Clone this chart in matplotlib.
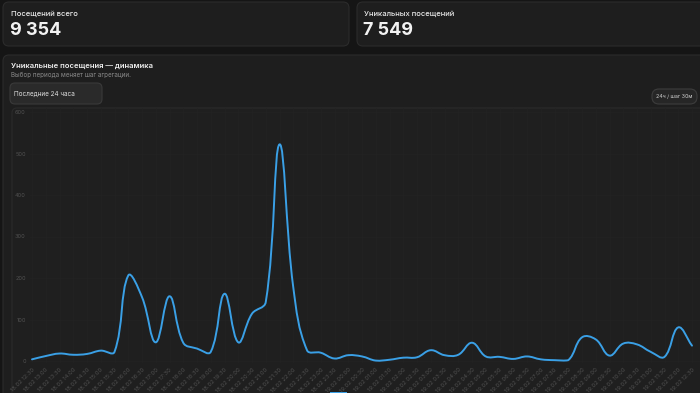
import matplotlib
matplotlib.use("Agg")
import matplotlib.pyplot as plt
import numpy as np
from matplotlib.patches import FancyBboxPatch, Rectangle, PathPatch
from matplotlib.path import Path

plt.rcParams['font.family'] = ['Inter', 'DejaVu Sans']

# data: unique visits per 30 minutes, 18.02 12:30 .. 19.02 12:30
times = ["18.02 12:30", "18.02 13:00", "18.02 13:30", "18.02 14:00", "18.02 14:30",
         "18.02 15:00", "18.02 15:30", "18.02 16:00", "18.02 16:30", "18.02 17:00",
         "18.02 17:30", "18.02 18:00", "18.02 18:30", "18.02 19:00", "18.02 19:30",
         "18.02 20:00", "18.02 20:30", "18.02 21:00", "18.02 21:30", "18.02 22:00",
         "18.02 22:30", "18.02 23:00", "18.02 23:30", "19.02 00:00", "19.02 00:30",
         "19.02 01:00", "19.02 01:30", "19.02 02:00", "19.02 02:30", "19.02 03:00",
         "19.02 03:30", "19.02 04:00", "19.02 04:30", "19.02 05:00", "19.02 05:30",
         "19.02 06:00", "19.02 06:30", "19.02 07:00", "19.02 07:30", "19.02 08:00",
         "19.02 08:30", "19.02 09:00", "19.02 09:30", "19.02 10:00", "19.02 10:30",
         "19.02 11:00", "19.02 11:30", "19.02 12:00", "19.02 12:30"]
visits = [4, 12, 18, 15, 17, 25, 22, 206, 154, 45,
          156, 44, 30, 22, 162, 45, 114, 142, 522, 178,
          26, 20, 6, 14, 11, 1, 3, 8, 9, 26,
          14, 15, 44, 11, 10, 5, 11, 4, 2, 2,
          57, 52, 13, 42, 40, 22, 10, 81, 37]
y_ticks = [0, 100, 200, 300, 400, 500, 600]

total_visits = "9 354"
unique_visits = "7 549"

W, H = 700, 393
BG = "#151515"
CARD = "#1e1e1e"
EDGE = "#2c2c2c"
LINE = "#3aa0e6"

fig = plt.figure(figsize=(7, 3.93), dpi=100, facecolor=BG)
canvas = fig.add_axes([0, 0, 1, 1])
canvas.set_xlim(0, W)
canvas.set_ylim(H, 0)
canvas.axis("off")


def card(x, y, w, h, fc=CARD, ec=EDGE, r=6, z=1):
    canvas.add_patch(FancyBboxPatch((x, y), w, h, boxstyle="round,pad=0,rounding_size=%d" % r,
                                    fc=fc, ec=ec, lw=0.8, zorder=z))


# stat cards
card(3, 2, 346, 44)
card(357, 2, 350, 44)
canvas.text(11, 14, "Посещений всего", color="#e8e8e8", fontsize=5.5, va="center", fontweight="medium")
canvas.text(10, 30.5, total_visits, color="#f2f2f2", fontsize=13, va="center", fontweight="bold")
canvas.text(364, 14, "Уникальных посещений", color="#e8e8e8", fontsize=5.5, va="center", fontweight="medium")
canvas.text(363, 30.5, unique_visits, color="#f2f2f2", fontsize=13, va="center", fontweight="bold")

# chart card
card(3, 55, 710, 360)
canvas.text(11, 66, "Уникальные посещения — динамика", color="#eeeeee", fontsize=5.5,
            va="center", fontweight="semibold")
canvas.text(11, 75, "Выбор периода меняет шаг агрегации.", color="#8a8a8a", fontsize=4.5, va="center")
card(10, 83, 92, 21, fc="#2a2a2a", ec="#3a3a3a", r=5, z=2)
canvas.text(14, 93.5, "Последние 24 часа", color="#e0e0e0", fontsize=4.6, va="center", zorder=3)
card(652, 89, 45, 15, fc="#262626", ec="#3d3d3d", r=7, z=2)
canvas.text(674.5, 96.5, "24ч / шаг 30м", color="#d0d0d0", fontsize=3.8, va="center", ha="center", zorder=3)

# plot frame
card(12, 108, 700, 300, fc="#1f1f1f", ec="#2b2b2b", r=5, z=2)

# legend marker peeking at the bottom
canvas.add_patch(Rectangle((330, 391.5), 17, 3, fc=LINE, ec="none", zorder=3))

# chart axes: pixel mapping x = 32 + 13.75*i, y = 361 - 0.415*v
x0, dx = 32.0, 13.75
y0, dy = 361.0, 0.415
left_px, right_px, top_px, bot_px = 30, 700, 108, 363
n = len(visits)
ax = fig.add_axes([left_px / W, (H - bot_px) / H, (right_px - left_px) / W, (bot_px - top_px) / H])
ax.set_facecolor("none")
ax.set_zorder(4)
ax.set_xlim((left_px - x0) / dx, (right_px - x0) / dx)
ax.set_ylim(-(bot_px - y0) / dy, (y0 - top_px) / dy)
for s in ax.spines.values():
    s.set_visible(False)

xs = np.arange(n)
ys = np.array(visits, dtype=float)

# smooth line like chart.js (tension 0.4), control points in pixel space
px = xs * dx
py = ys * dy
t = 0.4
verts = [(xs[0], ys[0])]
codes = [Path.MOVETO]
cps = []
for i in range(n):
    ip = max(i - 1, 0)
    inx = min(i + 1, n - 1)
    d01 = np.hypot(px[i] - px[ip], py[i] - py[ip])
    d12 = np.hypot(px[inx] - px[i], py[inx] - py[i])
    tot = d01 + d12 if d01 + d12 > 0 else 1
    fa = t * d01 / tot
    fb = t * d12 / tot
    prev_cp = (px[i] - fa * (px[inx] - px[ip]), py[i] - fa * (py[inx] - py[ip]))
    next_cp = (px[i] + fb * (px[inx] - px[ip]), py[i] + fb * (py[inx] - py[ip]))
    cps.append((prev_cp, next_cp))
for i in range(1, n):
    a = cps[i - 1][1]
    b = cps[i][0]
    verts += [(a[0] / dx, max(a[1], 0) / dy), (b[0] / dx, max(b[1], 0) / dy), (xs[i], ys[i])]
    codes += [Path.CURVE4] * 3
ax.add_patch(PathPatch(Path(verts, codes), fc="none", ec=LINE, lw=1.4, zorder=5,
                       capstyle="round", joinstyle="round"))

ax.set_xticks(xs)
ax.set_xticklabels(times, rotation=45, ha="right", rotation_mode="anchor",
                   fontsize=4.2, color="#505050")
ax.set_yticks(y_ticks)
ax.set_yticklabels([str(v) for v in y_ticks], fontsize=4.0, color="#505050")
ax.tick_params(length=0, pad=3)
ax.grid(True, color="#232323", lw=0.5)
ax.set_axisbelow(True)

fig.savefig("out.png", dpi=100, facecolor=BG)
